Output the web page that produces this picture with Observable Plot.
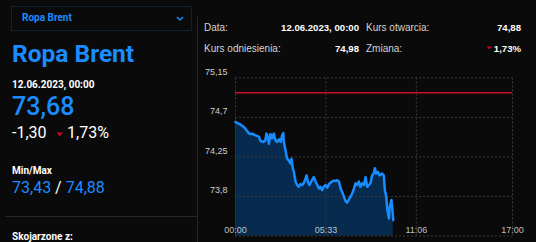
<!DOCTYPE html>
<html>
<head>
<meta charset="utf-8">
<script src="https://cdn.jsdelivr.net/npm/d3@7"></script>
<script src="https://cdn.jsdelivr.net/npm/@observablehq/plot@0.6"></script>
<style>
  html, body { margin: 0; padding: 0; background: #0a0a0a; }
  body { width: 536px; height: 242px; position: relative; overflow: hidden; font-family: Roboto, sans-serif; color: #fff; }
  .a { position: absolute; white-space: nowrap; line-height: 1; }
  .blue { color: #1a8cff; }
  .hdr { font-family: "Liberation Sans", Arial, sans-serif; font-size: 10px; color: #d4d4d4; }
  .hdr.v { color: #fff; font-weight: bold; text-align: right; font-size: 9.6px; }
  #chart { position: absolute; left: 197px; top: 60px; }
</style>
</head>
<body>
<!-- left panel -->
<div class="a" style="left:11px;top:6px;width:179px;height:23px;border:1px solid #0b2338;"></div>
<div class="a blue" style="left:22px;top:13px;font-size:10px;font-weight:700;">Ropa Brent</div>
<svg class="a" style="left:176px;top:16px;" width="8" height="6"><path d="M1,1 L4,4 L7,1" fill="none" stroke="#1a8cff" stroke-width="1.5"/></svg>
<div class="a blue" style="left:12px;top:42px;font-size:24.5px;font-weight:700;">Ropa Brent</div>
<div class="a" style="left:12px;top:80px;font-size:10px;font-weight:700;">12.06.2023, 00:00</div>
<div class="a blue" style="left:12px;top:94px;font-size:25px;font-weight:500;">73,68</div>
<div class="a" style="left:12px;top:125px;font-size:16px;">-1,30</div>
<svg class="a" style="left:56px;top:132px;" width="8" height="5"><path d="M0.5,0.5 L7,0.5 L3.75,4.5 Z" fill="#d0021b"/></svg>
<div class="a" style="left:67px;top:125px;font-size:16px;">1,73%</div>
<div class="a" style="left:12px;top:166px;font-size:10px;font-weight:700;">Min/Max</div>
<div class="a" style="left:12px;top:180px;font-size:16px;"><span class="blue">73,43</span> / <span class="blue">74,88</span></div>
<div class="a" style="left:5px;top:216px;width:192px;height:1px;background:#262626;"></div>
<div class="a" style="left:12px;top:232px;font-size:10px;font-weight:700;">Skojarzone z:</div>
<div class="a" style="left:197px;top:17px;width:1px;height:225px;background:#262626;"></div>

<!-- right header -->
<div class="a hdr" style="left:204px;top:23px;">Data:</div>
<div class="a hdr v" style="left:259px;top:23px;width:100px;">12.06.2023, 00:00</div>
<div class="a hdr" style="left:366px;top:23px;">Kurs otwarcia:</div>
<div class="a hdr v" style="left:461px;top:23px;width:60px;">74,88</div>
<div class="a hdr" style="left:204px;top:44px;">Kurs odniesienia:</div>
<div class="a hdr v" style="left:299px;top:44px;width:60px;">74,98</div>
<div class="a hdr" style="left:366px;top:44px;">Zmiana:</div>
<svg class="a" style="left:486px;top:46px;" width="7" height="4"><path d="M0.5,0.5 L6,0.5 L3.25,3.5 Z" fill="#d0021b"/></svg>
<div class="a hdr v" style="left:461px;top:44px;width:60px;">1,73%</div>

<div id="chart"></div>
<script>
const times = ["00:00","00:06","00:18","00:31","00:43","00:49","00:55","01:01","01:14","01:26",
  "01:32","01:44","01:50","01:54","01:59","02:03","02:09","02:15","02:21","02:27",
  "02:33","02:40","02:46","02:52","02:56","02:58","03:04","03:10","03:16","03:23",
  "03:26","03:31","03:35","03:41","03:47","03:53","03:59","04:06","04:12","04:18",
  "04:22","04:26","04:32","04:36","04:42","04:48","04:55","05:01","05:07","05:13",
  "05:19","05:25","05:31","05:38","05:44","05:50","05:56","06:02","06:08","06:14",
  "06:21","06:27","06:33","06:39","06:45","06:51","06:57","07:04","07:10","07:16",
  "07:22","07:28","07:34","07:40","07:46","07:53","07:59","08:05","08:11","08:17",
  "08:23","08:29","08:33","08:38","08:44","08:50","09:00","09:06","09:10","09:15",
  "09:19","09:25","09:28","09:34","09:37","09:41"];
const prices = [74.65,74.635,74.62,74.59,74.545,74.52,74.51,74.515,74.495,74.48,
  74.43,74.42,74.44,74.515,74.48,74.40,74.51,74.46,74.515,74.44,
  74.42,74.45,74.42,74.50,74.52,74.42,74.325,74.23,74.21,74.175,
  74.23,74.12,74.08,73.97,73.93,73.91,73.94,73.93,73.955,74.005,
  74.04,73.97,73.93,73.95,73.985,74.02,73.97,73.93,73.89,73.91,
  73.87,73.91,73.93,73.90,73.94,73.955,73.97,73.98,73.975,73.985,
  73.97,73.89,73.85,73.80,73.75,73.73,73.76,73.80,73.835,73.89,
  73.95,73.93,73.97,73.91,73.95,73.93,74.02,73.91,73.93,73.95,
  74.04,74.06,74.12,74.06,74.08,74.04,74.06,74.04,73.87,73.80,
  73.65,73.55,73.68,73.76,73.68,73.53];
const referencePrice = 74.98;
const yTicks = [73.35, 73.8, 74.25, 74.7, 75.15];
const yTickLabels = ["", "73,8", "74,25", "74,7", "75,15"];
const xTickLabels = ["00:00", "05:33", "11:06", "17:00"];

const toMin = s => { const [h, m] = s.split(":").map(Number); return h * 60 + m; };
const data = times.map((t, i) => ({t: toMin(t), v: prices[i]}));
const xTicks = xTickLabels.map(toMin);
const yMin = yTicks[0], yMax = yTicks[yTicks.length - 1];
const xMin = xTicks[0], xMax = xTicks[xTicks.length - 1];

const chart = Plot.plot({
  width: 339,
  height: 182,
  marginLeft: 38,
  marginRight: 24,
  marginTop: 17.3,
  marginBottom: 6.5,
  style: {background: "transparent", fontFamily: "'Liberation Sans', Arial, sans-serif", fontSize: "9px"},
  x: {domain: [xMin, xMax], axis: null},
  y: {domain: [yMin, yMax], axis: null},
  marks: [
    Plot.areaY(data, {x: "t", y1: () => yMin, y2: "v", fill: "#062b4f"}),
    Plot.ruleY(yTicks, {x1: xMin, x2: xMax, stroke: "#3a3a3a", strokeDasharray: "2,2", strokeWidth: 1}),
    Plot.ruleX(xTicks, {y1: yMin, y2: yMax, stroke: "#3a3a3a", strokeDasharray: "2,2", strokeWidth: 1}),
    Plot.ruleY([referencePrice], {x1: xMin, x2: xMax, stroke: "#c8102e", strokeWidth: 1.5}),
    Plot.line(data, {x: "t", y: "v", stroke: "#168cff", strokeWidth: 2.5, curve: "linear"}),
    Plot.text(yTicks, {x: xMin, y: d => d, text: (d, i) => yTickLabels[i], textAnchor: "end", lineAnchor: "bottom", dx: -8, dy: -3, fill: "#cfcfcf"}),
    Plot.text(xTicks, {x: d => d, y: yMin, text: (d, i) => xTickLabels[i], lineAnchor: "middle", dy: -6, fill: "#d8d8d8", fillOpacity: 0.9})
  ]
});
document.getElementById("chart").appendChild(chart);
</script>
</body>
</html>
